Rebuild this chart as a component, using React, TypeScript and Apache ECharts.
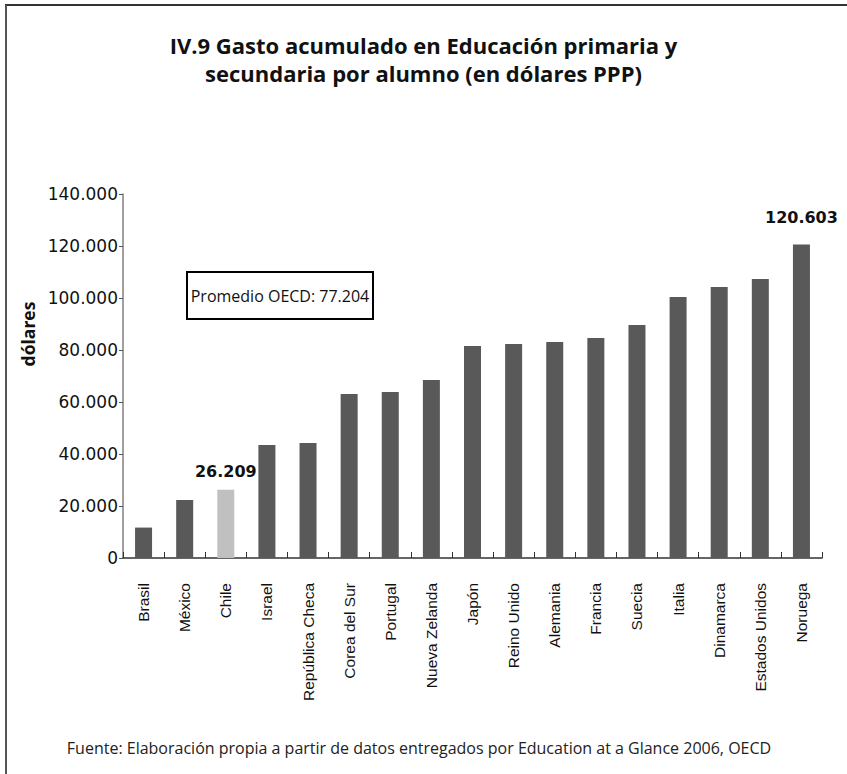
import React, { useEffect, useRef } from "react";
import * as echarts from "echarts";

const categories = [
  "Brasil", "México", "Chile", "Israel", "República Checa", "Corea del Sur", "Portugal",
  "Nueva Zelanda", "Japón", "Reino Unido", "Alemania", "Francia", "Suecia", "Italia",
  "Dinamarca", "Estados Unidos", "Noruega",
];
const values = [
  11700, 22300, 26209, 43500, 44200, 63100, 63800, 68500, 81500, 82300, 83100, 84600,
  89600, 100400, 104200, 107300, 120603,
];
const highlighted = "Chile";
const labelledCategories = ["Chile", "Noruega"];
const titleText = "IV.9 Gasto acumulado en Educación primaria y\nsecundaria por alumno (en dólares PPP)";
const averageText = "Promedio OECD: 77.204";
const sourceText = "Fuente: Elaboración propia a partir de datos entregados por Education at a Glance 2006, OECD";
const yAxisTitle = "dólares";

const fmt = (v: number) => (v === 0 ? "0" : v.toLocaleString("de-DE"));

export default function App() {
  const ref = useRef<HTMLDivElement>(null);
  useEffect(() => {
    document.body.style.margin = "0";
    const chart = echarts.init(ref.current!, null, { renderer: "svg" });
    const data = values.map((v, i) => {
      const cat = categories[i];
      const item: any = {
        value: v,
        itemStyle: { color: cat === highlighted ? "#c0c0c0" : "#595959" },
      };
      if (labelledCategories.includes(cat)) {
        item.label = {
          show: true,
          position: "top",
          distance: cat === "Chile" ? 10 : 19,
          formatter: (p: any) => fmt(p.value),
          fontFamily: "DejaVu Sans",
          fontWeight: "bold",
          fontSize: 16,
          color: "#111",
        };
      }
      return item;
    });
    chart.setOption({
      animation: false,
      backgroundColor: "#ffffff",
      title: {
        text: titleText,
        left: "center",
        top: 26,
        textStyle: {
          fontFamily: "Open Sans",
          fontWeight: "bold",
          fontSize: 22,
          lineHeight: 28,
          color: "#111",
        },
      },
      grid: { left: 123, right: 25, top: 194, bottom: 216, containLabel: false },
      xAxis: {
        type: "category",
        data: categories,
        boundaryGap: true,
        axisLine: { lineStyle: { color: "#333", width: 1.5 } },
        axisTick: { show: true, inside: true, length: 6, lineStyle: { color: "#333" } },
        axisLabel: {
          rotate: 90,
          interval: 0,
          margin: 25,
          fontFamily: "Liberation Sans",
          fontSize: 15.5,
          color: "#111",
        },
      },
      yAxis: {
        type: "value",
        min: 0,
        max: 140000,
        interval: 20000,
        splitLine: { show: false },
        axisLine: { show: true, lineStyle: { color: "#808080", width: 1.5 } },
        axisTick: { show: true, inside: false, length: 4, lineStyle: { color: "#555" } },
        axisLabel: {
          formatter: (v: number) => fmt(v),
          margin: 5,
          fontFamily: "DejaVu Sans",
          fontSize: 17,
          color: "#111",
        },
      },
      series: [
        {
          type: "bar",
          data,
          barWidth: 17,
        },
      ],
      graphic: [
        {
          type: "line",
          shape: { x1: 5, y1: 5, x2: 847, y2: 5 },
          style: { stroke: "#333", lineWidth: 2 },
        },
        {
          type: "line",
          shape: { x1: 6, y1: 5, x2: 6, y2: 774 },
          style: { stroke: "#555", lineWidth: 2 },
        },
        {
          type: "rect",
          shape: { x: 187, y: 272, width: 186, height: 47 },
          style: { fill: "#fff", stroke: "#000", lineWidth: 2 },
        },
        {
          type: "text",
          x: 280,
          y: 296,
          style: {
            text: averageText,
            fontFamily: "Open Sans",
            fontSize: 16,
            fill: "#111",
            align: "center",
            verticalAlign: "middle",
          },
        },
        {
          type: "text",
          x: 28,
          y: 334,
          rotation: Math.PI / 2,
          style: {
            text: yAxisTitle,
            fontFamily: "Open Sans",
            fontWeight: "bold",
            fontSize: 17.5,
            fill: "#111",
            align: "center",
            verticalAlign: "middle",
          },
        },
        {
          type: "text",
          x: 419,
          y: 748,
          style: {
            text: sourceText,
            fontFamily: "Open Sans",
            fontSize: 16,
            fill: "#222",
            align: "center",
            verticalAlign: "middle",
          },
        },
      ],
    });
    return () => chart.dispose();
  }, []);
  return <div ref={ref} style={{ width: 847, height: 774 }} />;
}
